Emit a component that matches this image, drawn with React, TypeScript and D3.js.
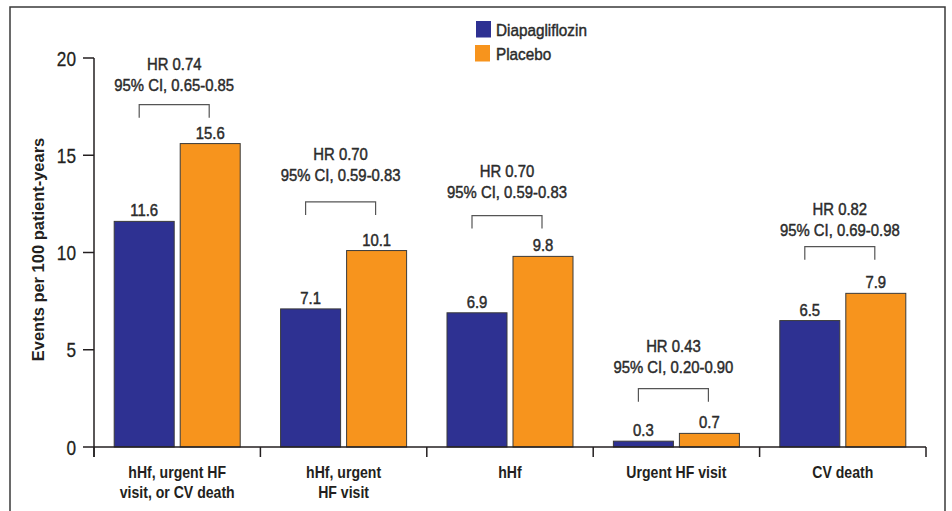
import React from "react";
import * as d3 from "d3";

const categories = [
  ["hHf, urgent HF", "visit, or CV death"],
  ["hHf, urgent", "HF visit"],
  ["hHf"],
  ["Urgent HF visit"],
  ["CV death"],
];
const seriesNames = ["Diapagliflozin", "Placebo"];
const dapagliflozin = [11.6, 7.1, 6.9, 0.3, 6.5];
const placebo = [15.6, 10.1, 9.8, 0.7, 7.9];
const hrText = ["HR 0.74", "HR 0.70", "HR 0.70", "HR 0.43", "HR 0.82"];
const ciText = [
  "95% CI, 0.65-0.85",
  "95% CI, 0.59-0.83",
  "95% CI, 0.59-0.83",
  "95% CI, 0.20-0.90",
  "95% CI, 0.69-0.98",
];
// annotation levels in data units (bracket top, CI text baseline)
const bracketLevel = [17.6, 12.6, 11.9, 3.0, 10.3];
const labelLevel = [18.28, 13.66, 12.78, 3.78, 10.83];
const yTicks = [0, 5, 10, 15, 20];

const colors = ["#2E3192", "#F7941D"];
const FONT = "'Liberation Sans', Arial, sans-serif";
const INK = "#231f20";
const MED = { fill: "#2b2b2b", stroke: "#2b2b2b", strokeWidth: 0.45 };

export default function App() {
  const W = 952;
  const H = 511;
  const x0 = 94;
  const x1 = 926;
  const y = d3.scaleLinear().domain([0, 20]).range([447, 58]);
  const idx = categories.map((_, i) => i);
  const x = d3.scaleBand<number>().domain(idx).range([x0, x1]).padding(0);
  const inner = d3
    .scaleBand<number>()
    .domain([0, 1])
    .range([0, x.bandwidth()])
    .paddingInner(0.0909)
    .paddingOuter(0.306);
  const series = [dapagliflozin, placebo];
  const bw = inner.bandwidth();
  const boundaries = idx.map((i) => x(i)!).concat([x1]);

  return (
    <svg
      width={W}
      height={H}
      style={{ position: "absolute", left: 0, top: 0, background: "#fff" }}
      fontFamily={FONT}
    >
      <rect x={0} y={0} width={W} height={H} fill="#fff" />
      {/* frame */}
      <path d={`M10,${H + 5} V7 H945 V${H + 5}`} fill="none" stroke="#3a3a3a" strokeWidth={1.5} />

      {/* bars */}
      {idx.map((i) =>
        series.map((s, k) => {
          const bx = x(i)! + inner(k)!;
          const by = y(s[i]);
          return (
            <g key={`${i}-${k}`}>
              <rect
                x={bx}
                y={by}
                width={bw}
                height={y(0) - by}
                fill={colors[k]}
                stroke="#3a3a3a"
                strokeWidth={1}
              />
              <text
                transform={`translate(${bx + bw / 2},${by - 5}) scale(0.93,1)`}
                textAnchor="middle"
                fontSize={16}
                {...MED}
              >
                {s[i].toFixed(1)}
              </text>
            </g>
          );
        })
      )}

      {/* brackets & HR labels */}
      {idx.map((i) => {
        const bl = x(i)! + inner(0)! + bw / 2 - 5;
        const br = x(i)! + inner(1)! + bw / 2 - 1;
        const by = y(bracketLevel[i]);
        const cx = (bl + br) / 2;
        const ly = y(labelLevel[i]);
        return (
          <g key={`b${i}`}>
            <path
              d={`M${bl},${by + 13} V${by} H${br} V${by + 13}`}
              fill="none"
              stroke="#555"
              strokeWidth={1.2}
            />
            <text
              transform={`translate(${cx},${ly - 21}) scale(0.93,1)`}
              textAnchor="middle"
              fontSize={16}
              {...MED}
            >
              {hrText[i]}
            </text>
            <text
              transform={`translate(${cx},${ly}) scale(0.93,1)`}
              textAnchor="middle"
              fontSize={16}
              {...MED}
            >
              {ciText[i]}
            </text>
          </g>
        );
      })}

      {/* y axis */}
      <line x1={x0} x2={x0} y1={y(20)} y2={y(0) + 10} stroke={INK} strokeWidth={1.5} />
      {yTicks.map((t) => (
        <g key={`t${t}`}>
          <line x1={x0 - 11} x2={x0} y1={y(t)} y2={y(t)} stroke={INK} strokeWidth={1.5} />
          <text
            transform={`translate(${x0 - 18},${y(t) + 7.5}) scale(0.82,1)`}
            textAnchor="end"
            fontSize={21}
            fill={INK}
            stroke={INK}
            strokeWidth={0.3}
          >
            {t}
          </text>
        </g>
      ))}
      <text
        transform={`translate(44,${(y(0) + y(20)) / 2 - 3}) rotate(-90) scale(0.97,1)`}
        textAnchor="middle"
        fontSize={17}
        fontWeight="bold"
        fill={INK}
      >
        Events per 100 patient-years
      </text>

      {/* x axis */}
      <line x1={x0} x2={x1} y1={y(0)} y2={y(0)} stroke={INK} strokeWidth={1.5} />
      {boundaries.map((bx, j) => (
        <line key={`xb${j}`} x1={bx} x2={bx} y1={y(0)} y2={y(0) + 10} stroke={INK} strokeWidth={1.5} />
      ))}
      {idx.map((i) =>
        categories[i].map((ln, j) => (
          <text
            key={`xl${i}-${j}`}
            transform={`translate(${x(i)! + x.bandwidth() / 2},${477.5 + j * 20}) scale(0.88,1)`}
            textAnchor="middle"
            fontSize={16}
            fontWeight="bold"
            fill={INK}
          >
            {ln}
          </text>
        ))
      )}

      {/* legend */}
      {seriesNames.map((n, k) => (
        <g key={`lg${k}`}>
          <rect x={476 - k} y={21 + k * 24} width={15} height={16.5} fill={colors[k]} />
          <text
            transform={`translate(496,${36 + k * 24}) scale(0.9,1)`}
            fontSize={17}
            {...MED}
          >
            {n}
          </text>
        </g>
      ))}
    </svg>
  );
}
